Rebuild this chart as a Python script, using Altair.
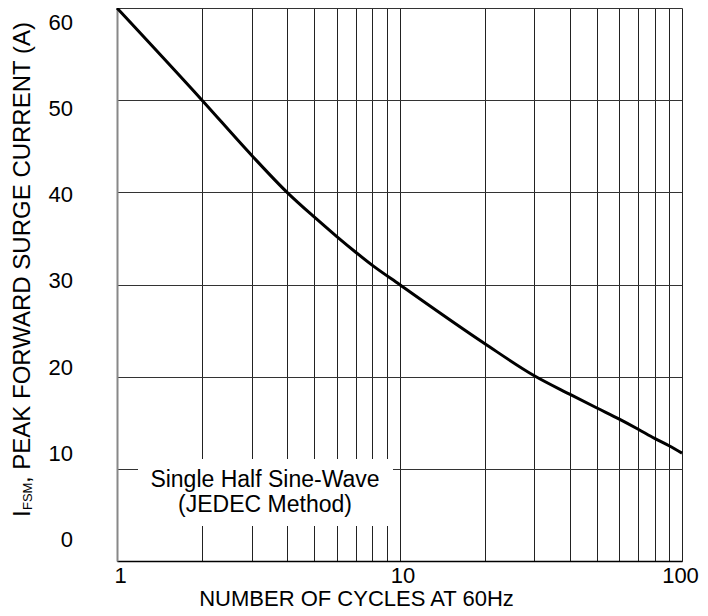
import altair as alt
import pandas as pd

# ---- data ----
cycles = [1, 2, 3, 4, 5, 6, 7, 8, 10, 20, 30, 40, 50, 60, 70, 80, 90, 100]
current = [60.0, 50.0, 44.0, 40.0, 37.3, 35.2, 33.5, 32.1, 30.0, 23.6, 20.1,
           18.1, 16.6, 15.4, 14.3, 13.3, 12.5, 11.7]
x_grid = [1, 2, 3, 4, 5, 6, 7, 8, 9, 10, 20, 30, 40, 50, 60, 70, 80, 90, 100]
x_labels = [1, 10, 100]
y_ticks = [0, 10, 20, 30, 40, 50, 60]
note_lines = ["Single Half Sine-Wave", "(JEDEC Method)"]
y_title_main = "I"
y_title_sub = "FSM"
y_title_rest = ", PEAK FORWARD SURGE CURRENT (A)"
x_title = "NUMBER OF CYCLES AT 60Hz"

FONT = "Liberation Sans, Arial, Helvetica, sans-serif"
FS = 23
W, H = 565, 553

curve = pd.DataFrame({"cycles": cycles, "current": current})
one = pd.DataFrame({"k": [0]})

label_expr = " : ".join(
    [f"datum.value == {v} ? '{v}'" for v in x_labels]) + " : ''"

x_scale = alt.Scale(type="log", domain=[1, 100], nice=False)
y_scale = alt.Scale(domain=[0, 60], nice=False, zero=False)

line = alt.Chart(curve).mark_line(
    color="black", strokeWidth=3, interpolate="monotone"
).encode(
    x=alt.X("cycles:Q", scale=x_scale, axis=alt.Axis(
        values=x_grid, grid=True, gridColor="#222", gridWidth=1,
        ticks=False, domainColor="#000", domainWidth=1.5,
        labelExpr=label_expr, labelFontSize=22, labelFont=FONT,
        labelColor="black", labelPadding=4,
        labelOffset={"condition": {"test": f"datum.value == {x_labels[-1]}",
                                   "value": -2}, "value": 3},
        labelFlush=False, labelOverlap=False,
        title=x_title, titleFont=FONT, titleFontSize=22,
        titleFontWeight="normal", titleColor="black",
        titleX=239, titleY=44, titleBaseline="alphabetic",
        titleAlign="center")),
    y=alt.Y("current:Q", scale=y_scale, axis=alt.Axis(
        values=y_ticks, grid=True, gridColor="#333", gridWidth=1,
        ticks=False, labels=False, domainColor="#888", domainWidth=2,
        title=None)),
)

box = alt.Chart(one).mark_rect(color="white").encode(
    x=alt.value(21), x2=alt.value(276), y=alt.value(451), y2=alt.value(518)
)

note1 = alt.Chart(one).mark_text(
    text=note_lines[0], font=FONT, fontSize=FS, align="center",
    baseline="alphabetic", color="black"
).encode(x=alt.value(148), y=alt.value(479))
note2 = alt.Chart(one).mark_text(
    text=note_lines[1], font=FONT, fontSize=FS, align="center",
    baseline="alphabetic", color="black"
).encode(x=alt.value(148), y=alt.value(504))

ylab_df = pd.DataFrame({"v": y_ticks, "t": [str(v) for v in y_ticks]})
ylabels = alt.Chart(ylab_df).mark_text(
    align="right", baseline="middle", font=FONT, fontSize=22, color="black"
).encode(
    y=alt.Y("v:Q", scale=alt.Scale(domain=[-2.44, 61.71], nice=False,
                                    zero=False), axis=None),
    x=alt.value(-44),
    text="t:N",
)

yt1 = alt.Chart(one).mark_text(
    text=y_title_main, font=FONT, fontSize=24, angle=270, align="left",
    baseline="alphabetic", color="black"
).encode(x=alt.value(-87), y=alt.value(509))
yt2 = alt.Chart(one).mark_text(
    text=y_title_sub, font=FONT, fontSize=13, angle=270, align="left",
    baseline="alphabetic", color="black"
).encode(x=alt.value(-85), y=alt.value(502))
yt3 = alt.Chart(one).mark_text(
    text=y_title_rest, font=FONT, fontSize=24, angle=270, align="left",
    baseline="alphabetic", color="black"
).encode(x=alt.value(-87), y=alt.value(475))

chart = alt.layer(
    line, box, note1, note2, ylabels, yt1, yt2, yt3
).resolve_scale(y="independent").properties(
    width=W, height=H,
    padding={"left": 109, "top": 0, "right": 18, "bottom": 47},
    autosize=alt.AutoSizeParams(type="none"),
).configure_view(strokeWidth=0)

chart.save("out.html", embed_options={"renderer": "svg", "actions": False})
